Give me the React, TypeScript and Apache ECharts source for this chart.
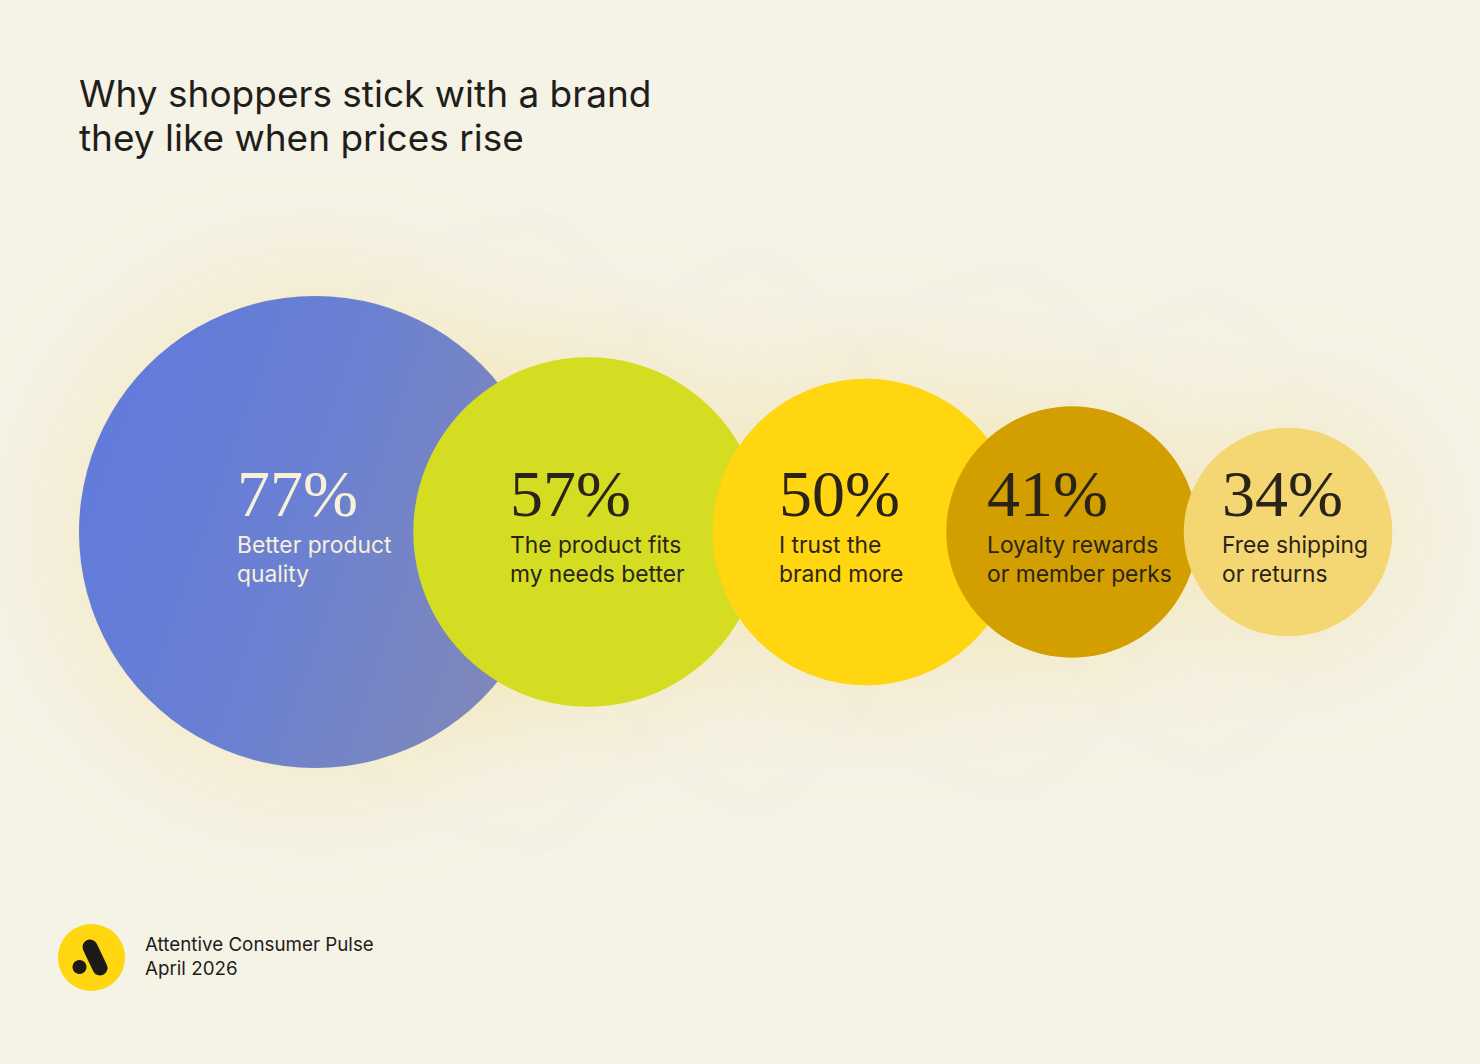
import React, { useEffect, useRef } from "react";
import * as echarts from "echarts";

// ---- data ----
const categories = [
  "Better product\nquality",
  "The product fits\nmy needs better",
  "I trust the\nbrand more",
  "Loyalty rewards\nor member perks",
  "Free shipping\nor returns",
];
const values = [77, 57, 50, 41, 34];
// horizontal placement of each bubble (layout units = px)
const positions = [315, 588, 866, 1072, 1288];

// ---- layout / style ----
const W = 1480;
const H = 1064;
const centerY = 532;
const radiusPerPoint = 3.065;
const labelOffsets = [
  [-78, -10],
  [-78, -10],
  [-87, -10],
  [-85, -10],
  [-66, -10],
];
const fills: any[] = [
  new echarts.graphic.LinearGradient(0, 0, 1, 0.35, [
    { offset: 0, color: "#6079DE" },
    { offset: 0.55, color: "#6A80D2" },
    { offset: 1, color: "#7D87BC" },
  ]),
  "#D5DD22",
  "#FFD60F",
  "#D39F00",
  "#F4D772",
];
const labelColors = ["#F8F1DA", "#2A2418", "#2A2418", "#2A2418", "#2A2418"];

export default function App() {
  const ref = useRef<HTMLDivElement>(null);
  useEffect(() => {
    const chart = echarts.init(ref.current!, null, { renderer: "svg" });
    const mainData = values.map((v, i) => ({
      value: [positions[i], centerY, v],
      name: categories[i],
      itemStyle: { color: fills[i], opacity: 1 },
      label: {
        offset: labelOffsets[i],
        color: labelColors[i],
        rich: {
          num: {
            fontFamily: "Liberation Serif",
            fontSize: 66,
            lineHeight: 74,
            color: labelColors[i],
          },
          txt: {
            fontFamily: "Inter",
            fontSize: 22.8,
            lineHeight: 29,
            color: labelColors[i],
          },
        },
      },
    }));
    const glowData = values.map((v, i) => ({
      value: [positions[i], centerY, v],
    }));
    chart.setOption({
      animation: false,
      backgroundColor: "#F5F2E6",
      grid: { left: 0, right: 0, top: 0, bottom: 0 },
      xAxis: { type: "value", min: 0, max: W, show: false },
      yAxis: { type: "value", min: 0, max: H, inverse: true, show: false },
      title: {
        text: "Why shoppers stick with a brand\nthey like when prices rise",
        left: 74,
        top: 66,
        textStyle: {
          fontFamily: "Inter",
          fontWeight: 400,
          fontSize: 37,
          lineHeight: 44,
          color: "#1F1E1B",
        },
      },
      graphic: [
        {
          type: "circle",
          shape: { cx: 91.5, cy: 957.5, r: 33.5 },
          style: { fill: "#FFD60F" },
        },
        {
          type: "line",
          shape: { x1: 90, y1: 947, x2: 100, y2: 968 },
          style: { stroke: "#1C1B19", lineWidth: 15, lineCap: "round" },
        },
        {
          type: "circle",
          shape: { cx: 79.5, cy: 967, r: 7 },
          style: { fill: "#1C1B19" },
        },
        {
          type: "text",
          left: 145,
          top: 932,
          style: {
            text: "Attentive Consumer Pulse\nApril 2026",
            fontFamily: "Inter",
            fontSize: 18.8,
            lineHeight: 24,
            fill: "#1F1E1B",
          },
        },
      ],
      series: [
        {
          type: "scatter",
          silent: true,
          data: glowData,
          symbolSize: (d: number[]) => d[2] * radiusPerPoint * 2,
          itemStyle: {
            color: "rgba(244, 226, 160, 0.9)",
            shadowBlur: 130,
            shadowColor: "rgba(240, 214, 120, 0.5)",
          },
          z: 1,
        },
        {
          type: "scatter",
          data: mainData,
          symbolSize: (d: number[]) => d[2] * radiusPerPoint * 2,
          label: {
            show: true,
            position: "inside",
            align: "left",
            verticalAlign: "middle",
            formatter: (p: any) => {
              const lines = String(p.name).split("\n");
              return `{num|${p.value[2]}%}\n` + lines.map((l) => `{txt|${l}}`).join("\n");
            },
          },
          z: 2,
        },
      ],
    });
    return () => chart.dispose();
  }, []);
  return (
    <div
      ref={ref}
      style={{ position: "fixed", left: 0, top: 0, width: W, height: H }}
    />
  );
}
